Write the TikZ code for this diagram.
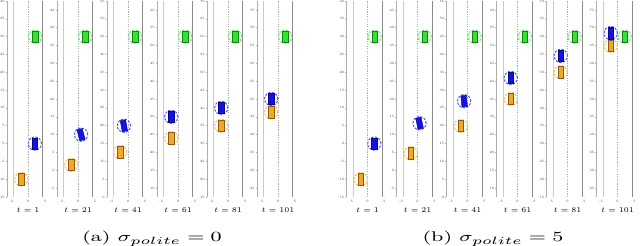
\documentclass[tikz,border=0pt]{standalone}
\usepackage{fix-cm}
\usepackage{amsmath}
\usepackage{tikz}
\usetikzlibrary{positioning, calc}
\definecolor{egoblue}   {HTML}{1212E8}
\definecolor{leadgreen} {HTML}{2EE62E}
\definecolor{rearorange}{HTML}{F5A623}
\definecolor{lanegray}  {HTML}{8A8A8A}

\newcommand{\ticktext}[1]{\ifnum#1<0 --\number\numexpr-#1\relax\else#1\fi}

\tikzset{
  spine/.style      ={draw=lanegray!70, line width=0.3pt},
  edgeleft/.style   ={draw=lanegray!45, line width=0.6pt},
  edgeright/.style  ={draw=lanegray, line width=0.5pt},
  centreline/.style ={draw=lanegray!70, line width=0.35pt, dash pattern=on 0.7pt off 0.7pt},
  ticklabel/.style  ={font=\fontsize{1.9}{2.2}\selectfont, text=black!75, inner sep=0.2pt},
  steplabel/.style  ={font=\fontsize{4.2}{5}\selectfont, inner sep=0pt},
  car/.style        ={draw=#1!55!black, fill=#1, line width=0.25pt,
                      minimum width=0.11cm, minimum height=0.225cm, inner sep=0pt},
  zone/.style       ={circle, draw=#1!70, line width=0.6pt, dash pattern=on 1.3pt off 0.8pt,
                      minimum size=0.265cm, inner sep=0pt},
}

\begin{document}
\begin{tikzpicture}[x=0.02cm, y=0.02cm]
    \useasboundingbox (0, 0) rectangle (640, 246);

    % --- (a) sigma_polite = 0 ------------------------------------------------
    \foreach \id/\xz/\bot/\step/\bu/\bv/\brot/\ou/\ov in {
        a1/28/-15/1/2/0/0/-2/-10,
        a2/78/-7.5/21/0.9/10/15/-2/1.5,
        a3/128/0/41/-1.2/20/10/-2.3/12.6,
        a4/178/7.5/61/-2/30/0/-2/24,
        a5/228/15/81/-2/40/0/-2/35,
        a6/278/22.5/101/-2/50/0/-2/46.3,
    % --- (b) sigma_polite = 5 ------------------------------------------------
        b1/367.5/-15/1/2/0/0/-2/-10,
        b2/417.5/-7.5/21/0.6/13.2/12/-2/4.8,
        b3/467.5/0/41/-1/26.9/6/-2/19.9,
        b4/517.5/7.5/61/-2/40.9/0/-2/35,
        b5/567.5/15/81/-2/54.6/0/-2/50,
        b6/617.5/22.5/101/-2/68.5/0/-2/64.9}
    {
      \begin{scope}[shift={(\xz, 49)}, x=0.068cm, y=0.07128cm]
        % road: axis, two outer edges and the dashed centre line
        \draw[spine]      (-6.2, 0) -- (-6.2, 55);
        \draw[edgeleft]   (-4.25, 0) -- (-4.25, 55);
        \draw[centreline] (0, 0) -- (0, 55);
        \draw[edgeright]  (4.25, 0) -- (4.25, 55);

        % y ticks every 5 m inside the window
        \pgfmathtruncatemacro\first{5*ceil(\bot/5)}
        \pgfmathtruncatemacro\second{\first+5}
        \pgfmathtruncatemacro\last{5*floor((\bot+55)/5)}
        \foreach \v in {\first,\second,...,\last} {
          \draw[spine] (-6.2, {\v-\bot}) -- ++(-0.4, 0);
          \node[ticklabel, anchor=east] (\id-y\v) at (-6.65, {\v-\bot}) {\ticktext{\v}};
        }
        \foreach \u in {-5, 0, 5}
          \node[ticklabel, anchor=north] (\id-x\u) at (\u, -0.75) {\ticktext{\u}};

        \node[steplabel] (\id-t) at (0, -3.8) {$t = \step$};

        % vehicles with their dashed safety circles
        \node[zone=leadgreen]  (\id-green-zone)  at (2.1, 45) {};
        \node[car=leadgreen]   (\id-green)       at (2.1, 45) {};
        \node[zone=rearorange] (\id-orange-zone) at (\ou, {\ov-\bot}) {};
        \node[car=rearorange]  (\id-orange)      at (\ou, {\ov-\bot}) {};
        \node[zone=egoblue]    (\id-blue-zone)   at (\bu, {\bv-\bot}) {};
        \node[car=egoblue, rotate=\brot] (\id-blue) at (\bu, {\bv-\bot}) {};
      \end{scope}
    }

    \node[font=\fontsize{8}{9}\selectfont, anchor=base, xscale=1.48] (cap-a)
      at (152, 4) {(a) $\sigma_{polite} = 0$};
    \node[font=\fontsize{8}{9}\selectfont, anchor=base, xscale=1.48] (cap-b)
      at (493, 4) {(b) $\sigma_{polite} = 5$};
  \end{tikzpicture}
\end{document}
